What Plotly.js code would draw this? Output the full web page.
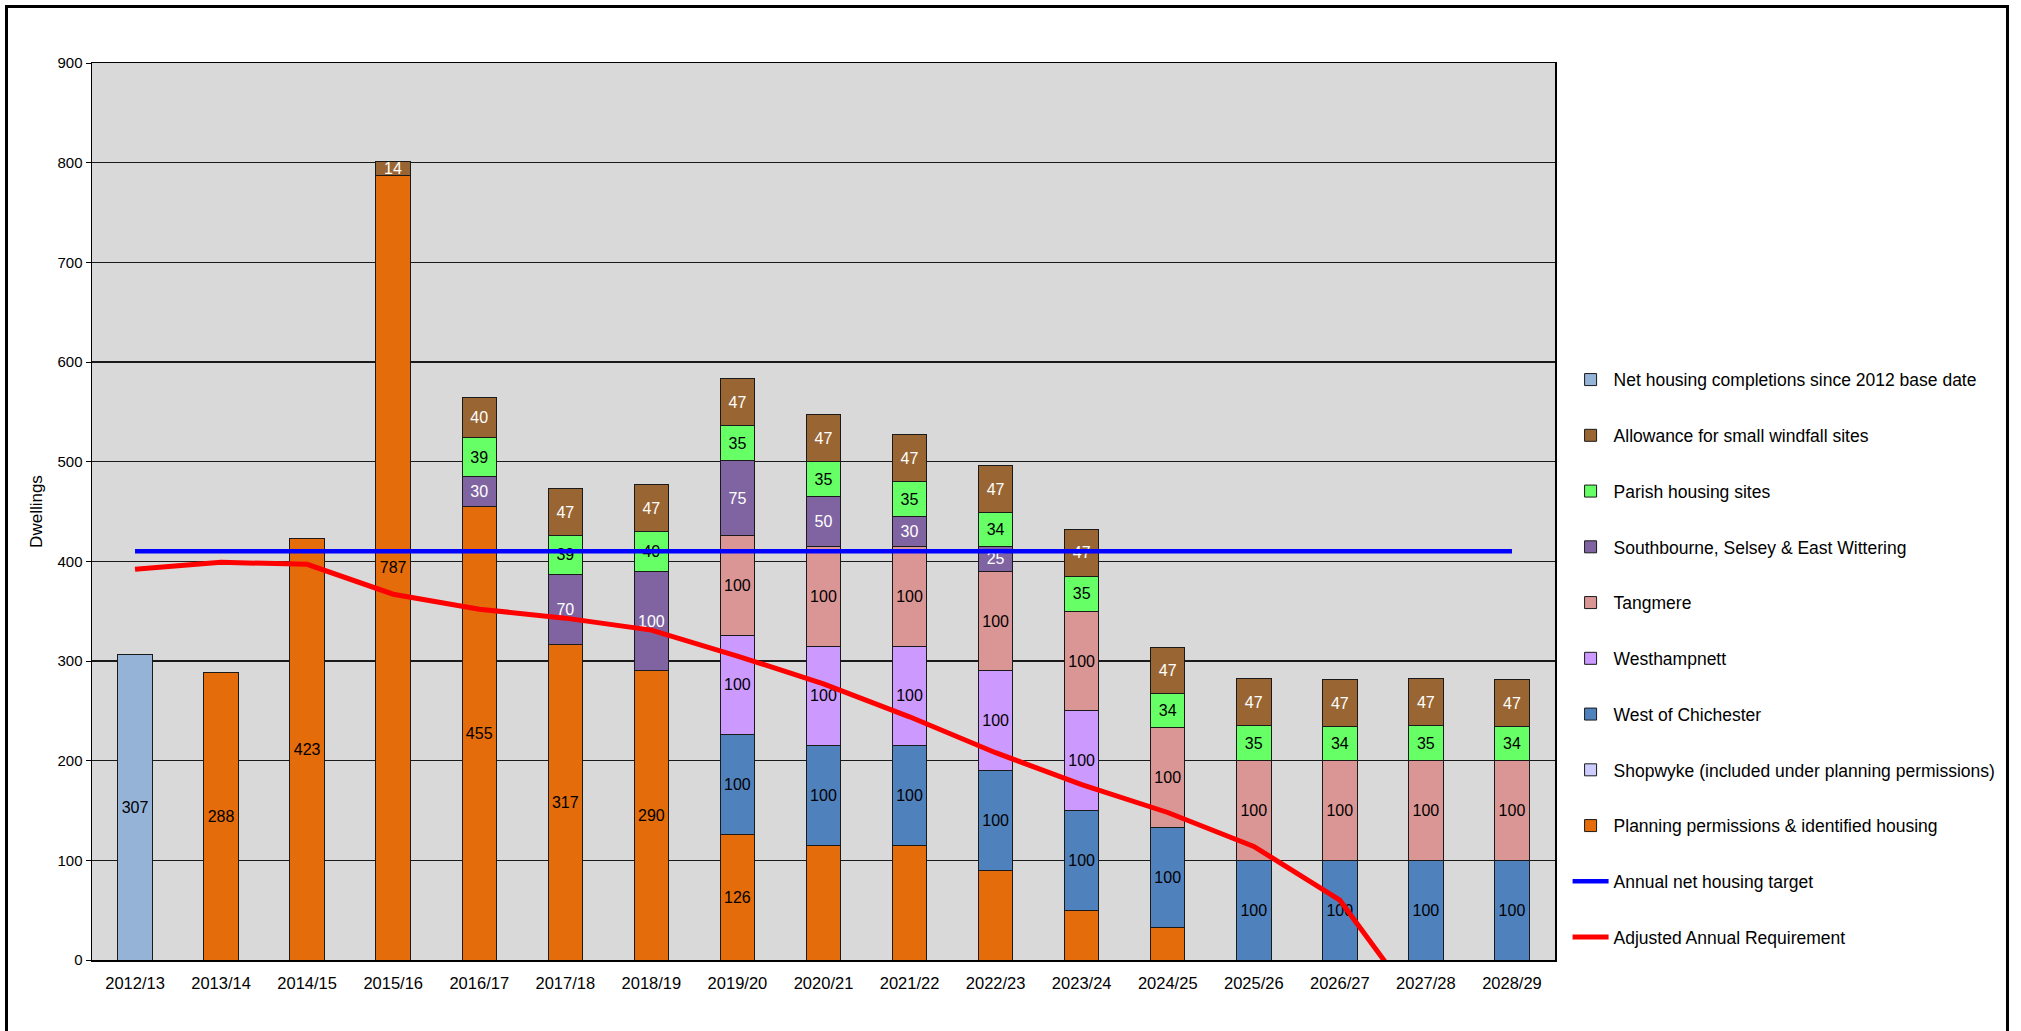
<!DOCTYPE html>
<html>
<head>
<meta charset="utf-8">
<script src="https://cdn.plot.ly/plotly-3.0.1.min.js"></script>
<style>
  html, body { margin: 0; padding: 0; background: #fff; overflow: hidden; }
  #chart { width: 2021px; height: 1031px; }
  #frame { position: absolute; left: 5px; top: 5px; width: 1998px; height: 1060px;
           border: 3px solid #000; pointer-events: none; }
</style>
</head>
<body>
<div id="chart"></div>
<div id="frame"></div>
<script>
const categories = ['2012/13','2013/14','2014/15','2015/16','2016/17','2017/18','2018/19','2019/20','2020/21',
                    '2021/22','2022/23','2023/24','2024/25','2025/26','2026/27','2027/28','2028/29'];

const completions    = [307, null, null, null, null, null, null, null, null, null, null, null, null, null, null, null, null];
const planning       = [null, 288, 423, 787, 455, 317, 290, 126, 115, 115, 90, 50, 33, null, null, null, null];
const planningShown  = [0, 1, 1, 1, 1, 1, 1, 1, 0, 0, 0, 0, 0, 0, 0, 0, 0];
const shopwyke       = [null, null, null, null, null, null, null, null, null, null, null, null, null, null, null, null, null];
const westChichester = [null, null, null, null, null, null, null, 100, 100, 100, 100, 100, 100, 100, 100, 100, 100];
const westhampnett   = [null, null, null, null, null, null, null, 100, 100, 100, 100, 100, null, null, null, null, null];
const tangmere       = [null, null, null, null, null, null, null, 100, 100, 100, 100, 100, 100, 100, 100, 100, 100];
const southbourne    = [null, null, null, null, 30, 70, 100, 75, 50, 30, 25, null, null, null, null, null, null];
const parish         = [null, null, null, null, 39, 39, 40, 35, 35, 35, 34, 35, 34, 35, 34, 35, 34];
const windfall       = [null, null, null, 14, 40, 47, 47, 47, 47, 47, 47, 47, 47, 47, 47, 47, 47];
const target         = [410, 410, 410, 410, 410, 410, 410, 410, 410, 410, 410, 410, 410, 410, 410, 410, 410];
const adjusted       = [392, 399, 397, 367, 352, 343, 331, 305, 277, 244, 208, 176, 148, 114, 60, -57, -175];

const FONT = 'Liberation Sans, Arial, sans-serif';
const SMALL = 20; // segments shorter than this get their label as an annotation (so it is not shrunk)

// stack order, bottom to top
const stack = [
  { name: 'Net housing completions since 2012 base date', vals: completions, color: '#95B3D7', tc: '#000', rank: 1 },
  { name: 'Planning permissions & identified housing', vals: planning, color: '#E46C0A', tc: '#000', rank: 9, mask: planningShown },
  { name: 'Shopwyke (included under planning permissions)', vals: shopwyke, color: '#CCCCFF', tc: '#000', rank: 8 },
  { name: 'West of Chichester', vals: westChichester, color: '#4F81BD', tc: '#000', rank: 7 },
  { name: 'Westhampnett', vals: westhampnett, color: '#CC99FF', tc: '#000', rank: 6 },
  { name: 'Tangmere', vals: tangmere, color: '#DA9694', tc: '#000', rank: 5 },
  { name: 'Southbourne, Selsey & East Wittering', vals: southbourne, color: '#8064A2', tc: '#fff', rank: 4 },
  { name: 'Parish housing sites', vals: parish, color: '#66FF66', tc: '#000', rank: 3 },
  { name: 'Allowance for small windfall sites', vals: windfall, color: '#996633', tc: '#fff', rank: 2 }
];

const traces = [];
const annotations = [];
const base = categories.map(() => 0);
stack.forEach(s => {
  const text = s.vals.map((v, i) => {
    if (v == null || (s.mask && !s.mask[i])) return '';
    if (v < SMALL) {
      annotations.push({ x: categories[i], y: base[i] + v / 2, xref: 'x', yref: 'y', text: String(v),
        showarrow: false, font: { family: FONT, size: 16, color: s.tc } });
      return '';
    }
    return String(v);
  });
  s.vals.forEach((v, i) => { if (v != null) base[i] += v; });
  traces.push({
    type: 'bar', name: s.name, x: categories, y: s.vals,
    legendgroup: s.name, legendrank: s.rank,
    marker: { color: s.color, line: { color: '#1a1a1a', width: 1 } },
    text: text, textposition: 'inside', insidetextanchor: 'middle', textangle: 0,
    textfont: { family: FONT, size: 16, color: s.tc }
  });
});

traces.push({ type: 'scatter', mode: 'lines', name: 'Annual net housing target', x: categories, y: target,
  legendgroup: 'tgt', legendrank: 10, line: { color: '#0000FF', width: 4.5 } });
traces.push({ type: 'scatter', mode: 'lines', name: 'Adjusted Annual Requirement', x: categories, y: adjusted,
  legendgroup: 'adj', legendrank: 11, line: { color: '#FF0000', width: 5 } });

const layout = {
  width: 2021, height: 1031,
  margin: { l: 92, r: 466, t: 63, b: 71 },
  paper_bgcolor: '#ffffff', plot_bgcolor: '#D9D9D9',
  font: { family: FONT, size: 16, color: '#000' },
  barmode: 'stack', bargap: 0.6,
  showlegend: true,
  annotations: annotations,
  legend: {
    x: 1.0086, xanchor: 'left', y: 0.667, yanchor: 'top',
    traceorder: 'grouped', tracegroupgap: 30,
    font: { family: FONT, size: 17.5, color: '#000' },
    bgcolor: 'rgba(0,0,0,0)', itemwidth: 36
  },
  xaxis: {
    type: 'category', showgrid: false, zeroline: false,
    showline: true, linecolor: '#000', linewidth: 1.5, mirror: true,
    ticks: '', ticklabelstandoff: 8,
    tickfont: { family: FONT, size: 16.5, color: '#000' },
    automargin: false
  },
  yaxis: {
    range: [0, 900], dtick: 100, tick0: 0,
    showgrid: true, gridcolor: '#1a1a1a', gridwidth: 1.5, zeroline: false,
    showline: true, linecolor: '#000', linewidth: 1.5, mirror: true,
    ticks: 'outside', ticklen: 5, tickcolor: '#000', tickwidth: 1,
    tickfont: { family: FONT, size: 15, color: '#000' },
    title: { text: 'Dwellings', font: { family: FONT, size: 17, color: '#000' }, standoff: 10 },
    automargin: false
  }
};

Plotly.newPlot('chart', traces, layout, { displayModeBar: false, staticPlot: true });
</script>
</body>
</html>
